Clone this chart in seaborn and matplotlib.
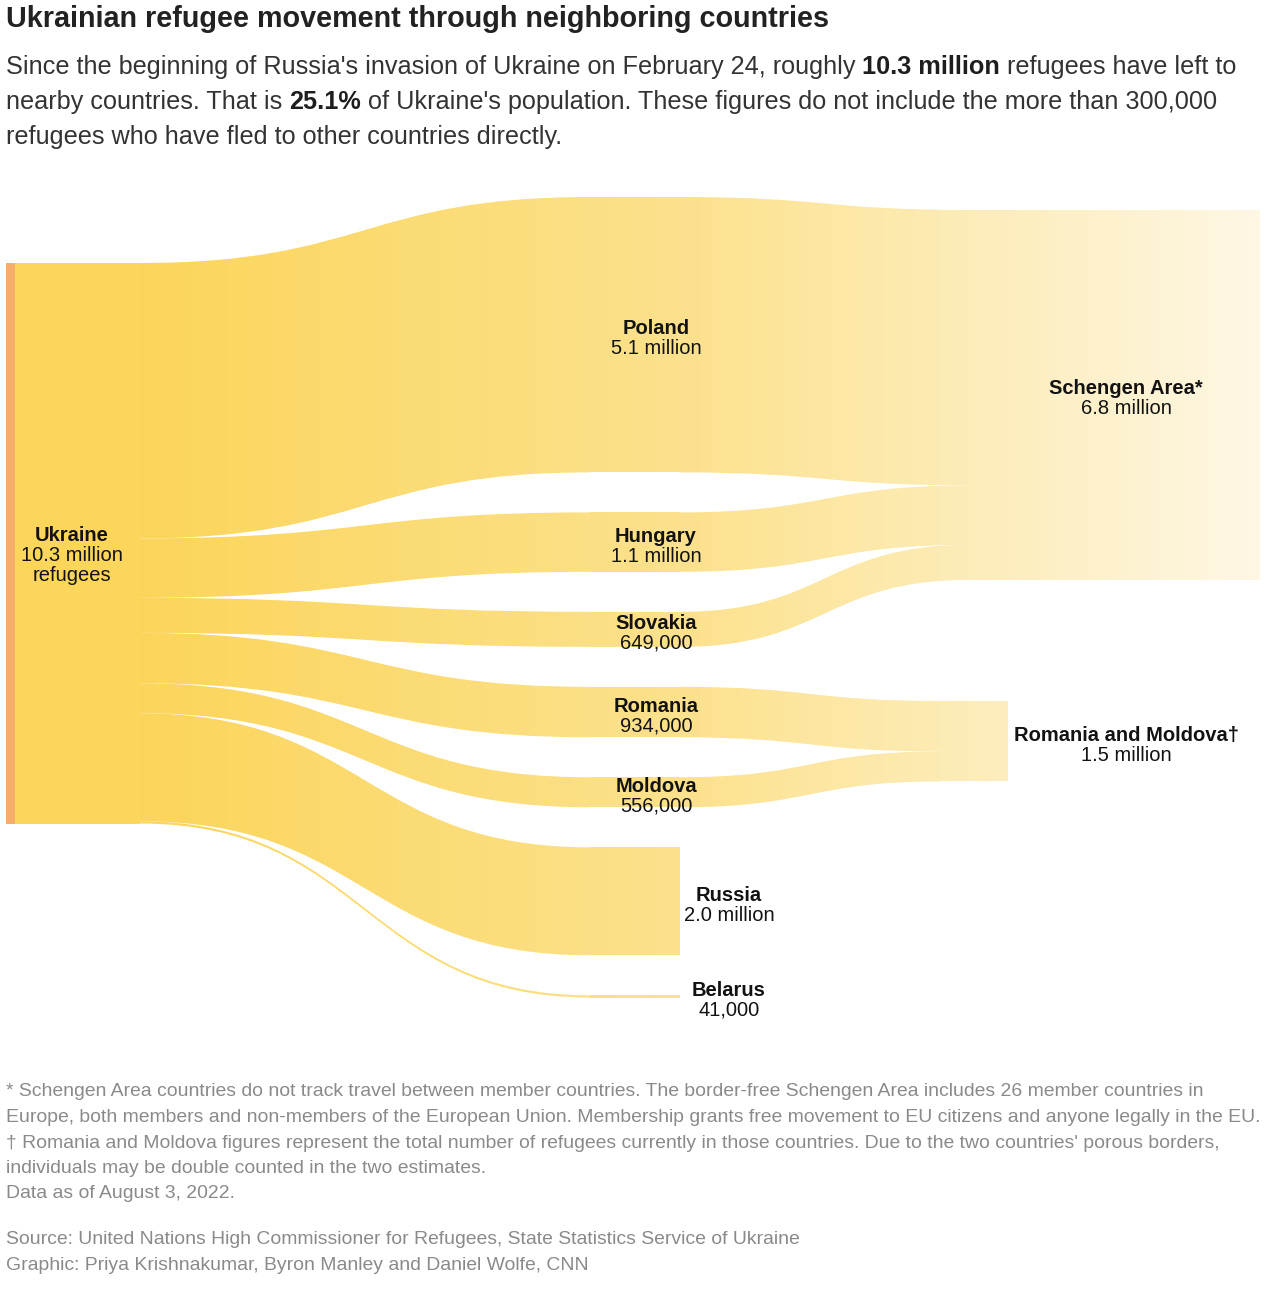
import numpy as np
import matplotlib
matplotlib.use("Agg")
import matplotlib.pyplot as plt
from matplotlib.path import Path
from matplotlib.patches import PathPatch, Rectangle
import seaborn as sns

# ---- data (millions of refugees) ----
source_name = "Ukraine"
source_label = ["10.3 million", "refugees"]

mid_names = ["Poland", "Hungary", "Slovakia", "Romania", "Moldova", "Russia", "Belarus"]
mid_values = [5.1, 1.1, 0.649, 0.934, 0.556, 2.0, 0.041]
mid_labels = ["5.1 million", "1.1 million", "649,000", "934,000", "556,000", "2.0 million", "41,000"]
mid_dest = ["Schengen Area*", "Schengen Area*", "Schengen Area*",
            "Romania and Moldova\u2020", "Romania and Moldova\u2020", None, None]

dest_names = ["Schengen Area*", "Romania and Moldova\u2020"]
dest_labels = ["6.8 million", "1.5 million"]

title = "Ukrainian refugee movement through neighboring countries"
subtitle = [
    [("Since the beginning of Russia's invasion of Ukraine on February 24, roughly", False),
     ("10.3 million", True), ("refugees have left to", False)],
    [("nearby countries. That is", False), ("25.1%", True),
     ("of Ukraine's population. These figures do not include the more than 300,000", False)],
    [("refugees who have fled to other countries directly.", False)],
]
notes = [
    "* Schengen Area countries do not track travel between member countries. The border-free Schengen Area includes 26 member countries in",
    "Europe, both members and non-members of the European Union. Membership grants free movement to EU citizens and anyone legally in the EU.",
    "\u2020 Romania and Moldova figures represent the total number of refugees currently in those countries. Due to the two countries' porous borders,",
    "individuals may be double counted in the two estimates.",
    "Data as of August 3, 2022.",
]
credits = [
    "Source: United Nations High Commissioner for Refugees, State Statistics Service of Ukraine",
    "Graphic: Priya Krishnakumar, Byron Manley and Daniel Wolfe, CNN",
]

# ---- layout ----
W, H = 1280, 1298
PX = 54.0                 # pixels per million
SRC_X = (15, 140)
MID_X = (590, 680)
MID_TOP, MID_GAP = 197, 40
SRC_TOP = 263
DST_X = {dest_names[0]: (970, 1260), dest_names[1]: (940, 1008)}
DST_TOP = {dest_names[0]: 210, dest_names[1]: 701}

sns.set_theme(style="white")
plt.rcParams['font.family'] = ['Liberation Sans', 'DejaVu Sans']

fig = plt.figure(figsize=(W / 100, H / 100), dpi=100)
ax = fig.add_axes([0, 0, 1, 1])
ax.set_xlim(0, W)
ax.set_ylim(H, 0)
ax.axis('off')
renderer = fig.canvas.get_renderer()

GX = (SRC_X[1], DST_X[dest_names[0]][1])
grad_cmap = sns.blend_palette(["#FBD55B", "#FCE28F", "#FEF7E4"], n_colors=512, as_cmap=True)
grad = np.linspace(0, 1, GX[1] - GX[0])[None, :]


def gradient_fill(path):
    patch = PathPatch(path, facecolor='none', edgecolor='none')
    ax.add_patch(patch)
    im = ax.imshow(grad, extent=(GX[0], GX[1], H, 0), aspect='auto',
                   cmap=grad_cmap, interpolation='nearest', zorder=1)
    im.set_clip_path(patch)


def band(x0, y0t, y0b, x1, y1t, y1b):
    xm = (x0 + x1) / 2
    verts = [(x0, y0t), (xm, y0t), (xm, y1t), (x1, y1t),
             (x1, y1b), (xm, y1b), (xm, y0b), (x0, y0b), (x0, y0t)]
    codes = [Path.MOVETO, Path.CURVE4, Path.CURVE4, Path.CURVE4,
             Path.LINETO, Path.CURVE4, Path.CURVE4, Path.CURVE4, Path.CLOSEPOLY]
    return Path(verts, codes)


def rect(x0, y0, x1, y1):
    return Path([(x0, y0), (x1, y0), (x1, y1), (x0, y1), (x0, y0)],
                [Path.MOVETO, Path.LINETO, Path.LINETO, Path.LINETO, Path.CLOSEPOLY])


heights = [v * PX for v in mid_values]
src_edges = SRC_TOP + np.concatenate([[0], np.cumsum(heights)])

# source node
ax.add_patch(Rectangle((SRC_X[0], src_edges[0]), SRC_X[1] - SRC_X[0],
                       src_edges[-1] - src_edges[0], color="#FBD65B", lw=0, zorder=2))
ax.add_patch(Rectangle((6, src_edges[0]), SRC_X[0] - 6,
                       src_edges[-1] - src_edges[0], color="#F5AF6B", lw=0, zorder=2))

dest_cursor = dict(DST_TOP)
dest_span = {d: [DST_TOP[d], DST_TOP[d]] for d in dest_names}
mid_top = MID_TOP
mid_centers = []
for i, name in enumerate(mid_names):
    h = heights[i]
    y0, y1 = mid_top, mid_top + h
    mid_centers.append((y0 + y1) / 2)
    # link source -> middle
    gradient_fill(band(SRC_X[1], src_edges[i], src_edges[i + 1], MID_X[0], y0, y1))
    # middle node
    gradient_fill(rect(MID_X[0], y0, MID_X[1], y1))
    d = mid_dest[i]
    if d is not None:
        dy0 = dest_cursor[d]
        dest_cursor[d] = dy0 + h
        dest_span[d][1] = dy0 + h
        gradient_fill(band(MID_X[1], y0, y1, DST_X[d][0], dy0, dy0 + h))
    mid_top = y1 + MID_GAP

for d in dest_names:
    gradient_fill(rect(DST_X[d][0], dest_span[d][0], DST_X[d][1], dest_span[d][1]))

# ---- node labels ----
LAB = 14.5
ink = "#121212"


def node_label(x, yc, name, value):
    ax.text(x, yc - 6, name, fontsize=LAB, fontweight='bold', color=ink,
            ha='center', va='center', zorder=5)
    ax.text(x, yc + 14, value, fontsize=LAB, color=ink, ha='center', va='center', zorder=5)


src_c = (src_edges[0] + src_edges[-1]) / 2
ax.text(72, src_c - 8, source_name, fontsize=LAB, fontweight='bold', color=ink,
        ha='center', va='center', zorder=5)
for k, s in enumerate(source_label):
    ax.text(72, src_c + 12 + 20 * k, s, fontsize=LAB, color=ink, ha='center', va='center', zorder=5)

for i, name in enumerate(mid_names):
    x = 656 if mid_dest[i] is not None else 729
    node_label(x, mid_centers[i], name, mid_labels[i])

for d, lab in zip(dest_names, dest_labels):
    node_label(1126, sum(dest_span[d]) / 2, d, lab)


# ---- header and footer text ----
def text_width(s, size, bold=False):
    t = ax.text(0, 0, s, fontsize=size, fontweight='bold' if bold else 'normal')
    w = t.get_window_extent(renderer).width
    t.remove()
    return w


def rich_width(parts, size):
    sp = text_width("x x", size) - text_width("xx", size)
    return sum(text_width(s, size, b) for s, b in parts) + sp * (len(parts) - 1)


def draw_rich(x, y, parts, size, color, bold_color):
    sp = text_width("x x", size) - text_width("xx", size)
    for s, b in parts:
        t = ax.text(x, y, s, fontsize=size, fontweight='bold' if b else 'normal',
                    color=bold_color if b else color, ha='left', va='center')
        x += t.get_window_extent(renderer).width + sp


title_size = 18 * 822 / text_width(title, 18, True)
ax.text(6, 19, title, fontsize=title_size, fontweight='bold', color="#222222",
        ha='left', va='center')

sub_size = 16 * 1230 / rich_width(subtitle[0], 16)
for k, line in enumerate(subtitle):
    draw_rich(6, 67 + 35 * k, line, sub_size, "#333333", "#1e1e1e")

note_size = 13 * 1251 / text_width(notes[1], 13)
for k, s in enumerate(notes):
    ax.text(6, 1092 + 25.5 * k, s, fontsize=note_size, color="#8a8a8a", ha='left', va='center')
for k, s in enumerate(credits):
    ax.text(6, 1239 + 26 * k, s, fontsize=note_size, color="#8a8a8a", ha='left', va='center')

fig.savefig("out.png", dpi=100, facecolor="white")
